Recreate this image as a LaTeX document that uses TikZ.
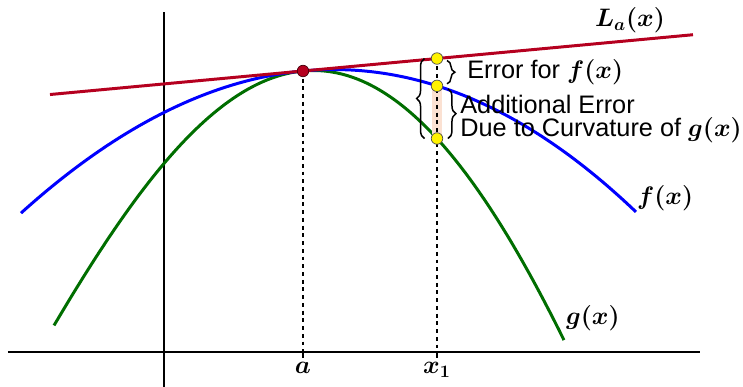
\documentclass[tikz,border=0pt]{standalone}
\usepackage{amsmath}
\usepackage[no-math]{fontspec}
\setmainfont{Liberation Sans}
\usepackage{tikz}
\usetikzlibrary{positioning,decorations.pathreplacing,calc}
\definecolor{tanred}{HTML}{B5001F}
\definecolor{fblue}{HTML}{0000FF}
\definecolor{ggreen}{HTML}{006E00}
\definecolor{dotyel}{HTML}{FFF200}
\definecolor{peach}{HTML}{FBE1D2}

\begin{document}
\begin{tikzpicture}[
      declare function = {
        du(\x)   = \x-2.78;
        tang(\x) = 5.62 + 0.093*du(\x);
        fcur(\x) = tang(\x) - 0.075*du(\x)*du(\x) - 0.000375*du(\x)*du(\x)*du(\x);
        gcur(\x) = tang(\x) - 0.22*du(\x)*du(\x) - 0.003*du(\x)*du(\x)*du(\x)
                   + 0.00075*du(\x)*du(\x)*du(\x)*du(\x);
      },
      axis/.style   = {line width=1pt, black},
      curve/.style  = {line width=1.7pt, samples=120, smooth},
      guide/.style  = {line width=0.8pt, dash pattern=on 2.2pt off 2.2pt},
      tick/.style   = {line width=0.9pt},
      dot/.style    = {circle, draw=black!70, line width=0.4pt, inner sep=0pt,
                       minimum size=0.23cm},
      brc/.style    = {decorate, decoration={brace, amplitude=4.5pt}, line width=0.85pt},
      mlbl/.style   = {font=\Large\boldmath, inner sep=1pt},
      txt/.style    = {font=\Large, align=left, inner sep=0pt},
    ]
    \useasboundingbox (-3.28,-0.70) rectangle (11.58,7.04);

    % ---- axes ----
    \coordinate (xl) at (-3.12,0);
    \coordinate (xr) at (10.72,0);
    \coordinate (yb) at (0,-0.70);
    \coordinate (yt) at (0,6.80);
    \draw[axis] (xl) -- (xr);
    \draw[axis] (yb) -- (yt);

    % ---- curves ----
    \draw[curve, ggreen, domain=-2.20:8.0] plot (\x, {gcur(\x)});
    \draw[curve, fblue,  domain=-2.86:9.44] plot (\x, {fcur(\x)});
    \draw[line width=1.7pt, tanred] (-2.28,{tang(-2.28)}) coordinate (tl)
          -- (10.58,{tang(10.58)}) coordinate (tr);

    % ---- points on x = x1 ----
    \coordinate (Lx1) at (5.46,{tang(5.46)});
    \coordinate (fx1) at (5.46,{fcur(5.46)});
    \coordinate (gx1) at (5.46,{gcur(5.46)});
    \coordinate (ax)  at (2.78,0);
    \coordinate (x1x) at (5.46,0);

    \fill[peach] ([xshift=-0.1cm]fx1) rectangle ([xshift=0.1cm]gx1);
    \draw[guide] (Lx1) -- (x1x);
    \draw[guide] (2.78,5.62) -- (ax);
    \draw[tick] (ax) -- ++(0,-0.13) coordinate (ta);
    \draw[tick] (x1x) -- ++(0,-0.13) coordinate (tb);

    % ---- dots ----
    \node[dot, fill=tanred, draw=black!60!tanred] (pa) at (2.78,5.62) {};
    \node[dot, fill=dotyel] (dL) at (Lx1) {};
    \node[dot, fill=dotyel] (df) at (fx1) {};
    \node[dot, fill=dotyel] (dg) at (gx1) {};

    % ---- braces ----
    \draw[brc] ([xshift=-0.25cm]dg.center) -- ([xshift=-0.25cm]dL.center);
    \draw[brc] ([xshift=0.2cm,yshift=-0.04cm]dL.center) -- ([xshift=0.2cm,yshift=0.04cm]df.center);
    \draw[brc] ([xshift=0.22cm,yshift=-0.06cm]df.center) -- ([xshift=0.22cm]dg.center);

    % ---- labels ----
    \node[txt, anchor=west] (err1) at (6.06,5.60) {Error for $\boldsymbol{f(x)}$};
    \node[txt, anchor=west] (err2) at (5.92,4.66)
         {Additional Error\\[-4.6pt]Due to Curvature of $\boldsymbol{g(x)}$};
    \node[mlbl] (lLa) at (9.32,6.64) {$L_a(x)$};
    \node[mlbl, anchor=west] (lf) at (9.42,3.08) {$f(x)$};
    \node[mlbl, anchor=west] (lg) at (8.0,0.68) {$g(x)$};
    \node[mlbl, below=1pt of ta] (la) {$a$};
    \node[mlbl, below=1pt of tb] (lx1) {$x_1$};
  \end{tikzpicture}
\end{document}
